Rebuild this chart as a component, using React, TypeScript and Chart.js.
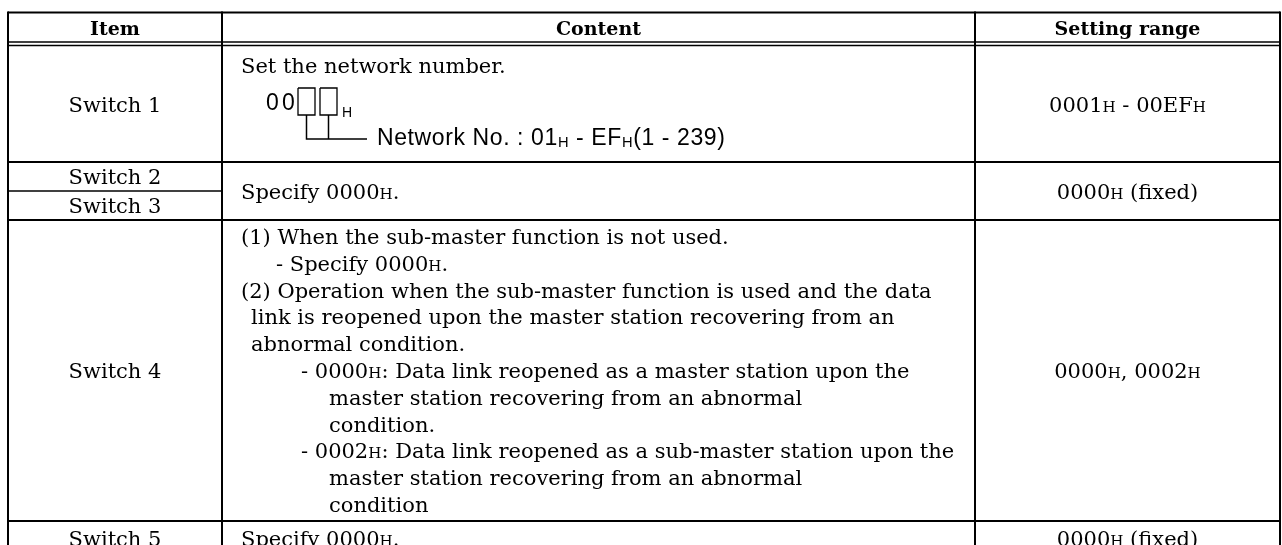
import React, { useEffect, useRef } from "react";
import { Chart, registerables } from "chart.js";

Chart.register(...registerables);

// ---------------- data ----------------
const headerLabels = ["Item", "Content", "Setting range"];
const itemLabels = ["Switch 1", "Switch 2", "Switch 3", "Switch 4", "Switch 5"];
const settingRanges = ["0001{H} - 00EF{H}", "0000{H} (fixed)", "0000{H}, 0002{H}", "0000{H} (fixed)"];
const switch1Lines = ["Set the network number."];
const networkDigits = ["0", "0"];
const networkSuffix = "H";
const networkNote = "Network No. : 01{H} - EF{H}(1 - 239)";
const switch23Lines = ["Specify 0000{H}."];
const switch4Lines = [
  "(1) When the sub-master function is not used.",
  "- Specify 0000{H}.",
  "(2) Operation when the sub-master function is used and the data",
  "link is reopened upon the master station recovering from an",
  "abnormal condition.",
  "- 0000{H}: Data link reopened as a master station upon the",
  "master station recovering from an abnormal",
  "condition.",
  "- 0002{H}: Data link reopened as a sub-master station upon the",
  "master station recovering from an abnormal",
  "condition",
];
// p = paragraph, s = sub item, c = continuation, d = dash item, h = hanging continuation
const switch4Levels = ["p", "s", "p", "c", "c", "d", "h", "h", "d", "h", "h"];
const switch5Lines = ["Specify 0000{H}."];

// ---------------- layout ----------------
const W = 1282;
const H = 545;
const colEdges = [8, 222, 975, 1280];
const tableTop = 12.5;
const headerLines = [42, 45.5];
const fullRowLines = [162, 220, 521];
const partialRowLine = 191; // between Switch 2 and Switch 3 (item column only)
const headerY = 28;
const itemY = [104, 176.5, 205.5, 370.5, 538];
const rangeY = [104, 191, 370.5, 538];
const contentX = 241;
const switch1Y = [65];
const switch23Y = [191];
const switch4Top = 236.5;
const switch4Step = 26.8;
const levelIndent: Record<string, number> = { p: 0, s: 35, c: 10, d: 60, h: 88 };
const switch5Y = [538];
// network-number diagram
const digitsX = [266, 282];
const digitsY = 101.5;
const boxes = [
  [298, 88, 315, 115],
  [320, 88, 337, 115],
];
const suffixX = 342;
const suffixY = 112;
const bracketBottom = 139;
const bracketRight = 367;
const noteX = 377;
const noteY = 136.5;

const SERIF = '"DejaVu Serif", serif';
const SANS = '"Liberation Sans", Arial, sans-serif';
const FS = 21;
const HEAD_FS = 19;

type Seg = { pts: [number, number][]; w: number };

function buildSegments(): Seg[] {
  const segs: Seg[] = [];
  const left = colEdges[0];
  const right = colEdges[colEdges.length - 1];
  segs.push({ pts: [[left, tableTop], [right, tableTop]], w: 2 });
  headerLines.forEach((y) => segs.push({ pts: [[left, y], [right, y]], w: 1.5 }));
  fullRowLines.forEach((y) => segs.push({ pts: [[left, y], [right, y]], w: 2 }));
  segs.push({ pts: [[left, partialRowLine], [colEdges[1], partialRowLine]], w: 1.5 });
  colEdges.forEach((x) => segs.push({ pts: [[x, tableTop - 1], [x, H + 5]], w: 2 }));
  boxes.forEach(([x1, y1, x2, y2]) =>
    segs.push({ pts: [[x1, y1], [x2, y1], [x2, y2], [x1, y2], [x1, y1]], w: 1.3 })
  );
  const c1 = (boxes[0][0] + boxes[0][2]) / 2;
  const c2 = (boxes[1][0] + boxes[1][2]) / 2;
  segs.push({ pts: [[c1, boxes[0][3]], [c1, bracketBottom], [bracketRight, bracketBottom]], w: 1.5 });
  segs.push({ pts: [[c2, boxes[1][3]], [c2, bracketBottom]], w: 1.5 });
  return segs;
}

type Piece = { t: string; f: string; dy: number; w: number };

function drawRich(
  ctx: CanvasRenderingContext2D,
  text: string,
  x: number,
  cy: number,
  family: string,
  size: number,
  weight: string,
  align: "left" | "center",
  smallScale: number,
  smallDrop: number,
  spacing = 0
) {
  const parts = text.split("{H}");
  const big = `${weight} ${size}px ${family}`;
  const small = `${weight} ${Math.round(size * smallScale * 10) / 10}px ${family}`;
  const pieces: Piece[] = [];
  parts.forEach((p, i) => {
    if (p) pieces.push({ t: p, f: big, dy: 0, w: 0 });
    if (i < parts.length - 1) pieces.push({ t: "H", f: small, dy: smallDrop, w: 0 });
  });
  const anyCtx = ctx as any;
  anyCtx.letterSpacing = `${spacing}px`;
  let total = 0;
  pieces.forEach((pc) => {
    ctx.font = pc.f;
    pc.w = ctx.measureText(pc.t).width;
    total += pc.w;
  });
  let cx = align === "center" ? x - total / 2 : x;
  const baseline = cy + size * 0.36;
  ctx.textAlign = "left";
  ctx.textBaseline = "alphabetic";
  pieces.forEach((pc) => {
    ctx.font = pc.f;
    ctx.fillText(pc.t, cx, baseline + pc.dy);
    cx += pc.w;
  });
  anyCtx.letterSpacing = "0px";
}

const textPlugin = {
  id: "tableText",
  afterDatasetsDraw(chart: any) {
    const ctx: CanvasRenderingContext2D = chart.ctx;
    const xs = chart.scales.x;
    const ys = chart.scales.y;
    const px = (v: number) => xs.getPixelForValue(v);
    const py = (v: number) => ys.getPixelForValue(v);
    ctx.save();
    ctx.fillStyle = "#000";
    // header
    headerLabels.forEach((lab, i) => {
      const cx = (colEdges[i] + colEdges[i + 1]) / 2;
      drawRich(ctx, lab, px(cx), py(headerY), SERIF, HEAD_FS, "bold", "center", 0.72, 0);
    });
    // items
    const itemCx = (colEdges[0] + colEdges[1]) / 2;
    itemLabels.forEach((lab, i) => {
      drawRich(ctx, lab, px(itemCx), py(itemY[i]), SERIF, FS, "normal", "center", 0.72, 0);
    });
    // setting ranges
    const rangeCx = (colEdges[2] + colEdges[3]) / 2;
    settingRanges.forEach((lab, i) => {
      drawRich(ctx, lab, px(rangeCx), py(rangeY[i]), SERIF, FS, "normal", "center", 0.72, 0);
    });
    // contents
    switch1Lines.forEach((t, i) =>
      drawRich(ctx, t, px(contentX), py(switch1Y[i]), SERIF, FS, "normal", "left", 0.72, 0)
    );
    switch23Lines.forEach((t, i) =>
      drawRich(ctx, t, px(contentX), py(switch23Y[i]), SERIF, FS, "normal", "left", 0.72, 0)
    );
    switch4Lines.forEach((t, i) => {
      const ind = levelIndent[switch4Levels[i]];
      drawRich(ctx, t, px(contentX + ind), py(switch4Top + i * switch4Step), SERIF, FS, "normal", "left", 0.72, 0);
    });
    switch5Lines.forEach((t, i) =>
      drawRich(ctx, t, px(contentX), py(switch5Y[i]), SERIF, FS, "normal", "left", 0.72, 0)
    );
    // diagram texts
    networkDigits.forEach((d, i) =>
      drawRich(ctx, d, px(digitsX[i]), py(digitsY), SANS, 23, "normal", "left", 1, 0)
    );
    drawRich(ctx, networkSuffix, px(suffixX), py(suffixY), SANS, 14, "normal", "left", 1, 0);
    drawRich(ctx, networkNote, px(noteX), py(noteY), SANS, 23, "normal", "left", 0.64, 2.5, 0.6);
    ctx.restore();
  },
};

export default function App() {
  const ref = useRef<HTMLCanvasElement | null>(null);
  useEffect(() => {
    if (!ref.current) return;
    const segs = buildSegments();
    const chart = new Chart(ref.current, {
      type: "scatter",
      data: {
        datasets: segs.map((s) => ({
          data: s.pts.map(([x, y]) => ({ x, y })),
          showLine: true,
          borderColor: "#000",
          backgroundColor: "#000",
          borderWidth: s.w,
          pointRadius: 0,
          pointHoverRadius: 0,
          tension: 0,
          fill: false,
          clip: false as any,
        })),
      },
      options: {
        animation: false,
        responsive: false,
        maintainAspectRatio: false,
        devicePixelRatio: 1,
        events: [],
        layout: { padding: 0 },
        plugins: { legend: { display: false }, tooltip: { enabled: false } },
        scales: {
          x: { type: "linear", min: 0, max: W, display: false },
          y: { type: "linear", min: 0, max: H, reverse: true, display: false },
        },
      },
      plugins: [textPlugin],
    });
    return () => chart.destroy();
  }, []);
  return (
    <div style={{ position: "fixed", left: 0, top: 0, width: W, height: H, background: "#fff" }}>
      <canvas ref={ref} width={W} height={H} style={{ display: "block", width: W, height: H }} />
    </div>
  );
}
